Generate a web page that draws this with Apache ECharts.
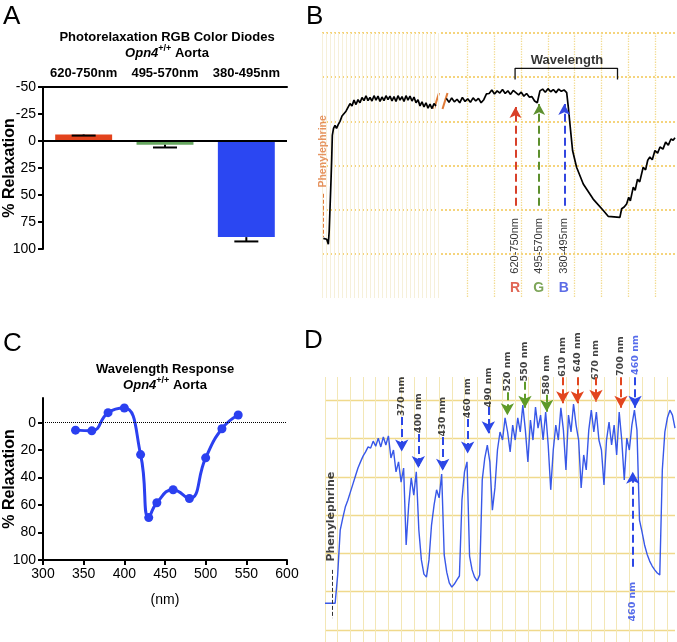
<!DOCTYPE html>
<html><head><meta charset="utf-8">
<script src="https://cdn.jsdelivr.net/npm/echarts@6/dist/echarts.min.js"></script>
<style>html,body{margin:0;padding:0;background:#fff}#c{width:677px;height:642px}</style>
</head><body><div id="c"></div>
<script>
// ---------- Panel A : RGB diodes ----------
const aCategories = ['620-750nm', '495-570nm', '380-495nm'];
const aMeans = [-6, 3.5, 89];
const aErrEnds = [-5, 6, 93];

// ---------- Panel B : raw trace (time / tension in chart divisions x10) ----------
const bTraceLeft = [
 [3.3,13.5],[7.5,13.4],[11.8,13.3],[15.8,12.2],[18,15.2],[20,20.2],[22.5,26.6],[24.3,31.6],[25.8,36.8],[28.8,38.4],[32.5,39.1],[36.3,38.4],[40.8,39.3],[45,40.0],
 [50,41.2],[55,40.8],[60,42.3],[65,42.0],[70,44.0],[75,43.5],[80,44.8],[85,43.8],[90,44.9],[95,44.2],[100,45.4],[105,44.7],[110,45.8],[115,44.7],[120,45.4],[125,44.6],
 [130,45.8],[135,44.8],[140,45.7],[145,44.5],[150,45.5],[155,44.7],[160,45.8],[165,44.9],[170,45.7],[175,44.6],[180,45.6],[185,44.5],[190,45.8],[195,44.8],[200,45.6],
 [205,44.5],[210,45.8],[215,44.8],[220,45.7],[225,44.6],[230,45.5],[235,44.2],[240,44.9],[245,43.5],[250,44.4],[255,43.25],[260,44.2],[265,43.0],[270,43.9],[275,42.9],[280,44.0],[285,43.5]
];
const bTraceRight = [
 [2,45.2],[3,44.3],[4,45.3],[5,44.4],[6,45.0],[7,44.2],[8,45.4],[9,44.5],[10,45.1],[11,44.3],[12,45.3],[13,44.6],[14,45.2],[15,44.2],[16,44.9],[17,46.2],[18,46.3],[19,47.1],
 [20,46.2],[21,46.9],[22,46.4],[23,47.2],[24,46.3],[25,46.9],[26,46.1],[27,47.0],[28,46.5],[29,46.0],[30,46.6],[31,45.7],[32,46.3],[33,45.5],[34,45.6],[35,44.6],[36,44.2],
 [37,46.9],[38,47.3],[39,46.6],[40,47.4],[41,46.7],[42,47.2],[43,46.5],[44,47.3],[45,46.8],[46,47.1],[47,46.5],
 [47.6,43.25],[48.2,39.5],[49.2,33.4],[50.7,29.6],[53.2,25.8],[56.9,22.4],[60.7,19.8],[62.5,18.5],[66.9,18.25],[67.55,20.2],[68.5,20.6],[69.4,21.3],[70.2,22.8],[70.8,22.0],
 [71.9,25.1],[72.6,24.4],[73.5,26.9],[74.3,26.3],[75.6,29.6],[76.5,29.0],[77.3,31.2],[78.1,31.9],[79,31.3],[80,33.4],[81,32.8],[81.9,34.2],[83,33.7],[84,35.3],[85,34.6],
 [86,36.0],[86.8,35.7],[87.5,36.3]
];
const bArrowNames = ['620-750nm', '495-570nm', '380-495nm'];
const bArrowLetters = ['R', 'G', 'B'];
const bArrowX = [27.85, 36.7, 46.1];
const bArrowBase = 20.9;
const bArrowTip = [43.25, 43.9, 43.9];
const bLabelY = 11.8, bLetterY = 2.3;
const bBracket = [[27.7,49.5],[27.7,52],[66.0,52],[66.0,49.5]];

// ---------- Panel C : wavelength response ----------
const cWavelengths = [340, 360, 380, 400, 420, 430, 440, 460, 480, 500, 520, 540];
const cRelax = [5.4, 5.9, -7.3, -10.7, 23.2, 69.1, 58.3, 48.8, 55.2, 25.6, 4.4, -5.6];
const cYTicks = [0, 20, 40, 60, 80, 100];

// ---------- Panel D : raw trace, sampled every 2 time units ----------
const dTimeStep = 2;
const dTrace = [
 7.0,7.0,7.0,7.0,7.0,14.4,26.1,29.2,32.1,33.9,36.0,38.1,40.2,42.3,43.9,45.4,46.5,47.8,47.5,49.3,
 48.0,50.1,47.8,50.4,48.3,50.7,44.9,47.0,41.3,43.9,38.6,42.3,22.2,32.6,39.7,35.2,41.3,26.1,18.3,14.6,
 13.8,18.3,27.4,32.6,36.6,34.5,40.7,19.6,15.1,12.3,11.2,12.0,13.1,14.1,33.9,41.3,43.9,19.3,15.7,13.8,
 12.8,14.4,39.2,44.9,48.3,43.9,31.3,37.1,47.0,51.7,49.6,55.4,51.7,46.5,53.5,49.6,55.4,51.7,58.7,52.2,
 43.9,54.8,49.6,58.2,52.7,56.1,49.6,56.9,48.3,36.6,47.0,53.5,49.6,58.0,52.2,41.8,56.1,51.7,59.0,53.5,
 49.6,37.1,45.7,41.8,52.2,57.4,51.7,56.9,49.6,47.0,37.9,49.6,54.3,48.3,53.5,45.7,56.9,49.6,39.2,50.1,
 47.0,53.5,57.4,52.2,28.7,25.6,22.2,19.8,18.0,16.7,15.7,14.9,14.4,41.8,51.7,55.4,57.4,56.1,52.7
];
const dArrowNames = ['370 nm','400 nm','430 nm','460 nm','490 nm','520 nm','550 nm','580 nm','610 nm','640 nm','670 nm','700 nm','460 nm'];
const dArrowBand  = ['b','b','b','b','b','g','g','g','r','r','r','r','b'];
const dArrowX     = [60.5,73.6,92.8,112.5,128.8,143.8,157.7,174.8,187.5,199,213.7,233.4,244.5];
const dArrowStart = [55.6,51.2,50.4,55.1,58.2,62.1,64.8,61.4,66,66,66,66,66];
const dArrowTip   = [46.6,42.3,41.6,46.1,51.4,56.1,58.0,57.0,59.2,59.2,59.6,58.0,58.0];
const dLabelY     = [61.0,56.6,55.7,60.5,63.3,67.5,70.1,66.6,71.3,72.5,70.5,71.5,71.8];
const dReturnArrow = {name: '460 nm', x: 242.7, start: 16.5, tip: 41.3, labelY: 7.4};

// ---------- styles ----------
const FONT = "'Liberation Sans', Arial, sans-serif";
const DFONT = "'DejaVu Sans', sans-serif";
const aColors = ['#e3431d', '#66a65f', '#2b47f2'];
const bCol = {R: '#d8402a', G: '#5d8f2e', B: '#3347e0'};
const dCol = {b: '#2c47e6', g: '#5f9a28', r: '#e2461f'};
const orange = '#e07b39';

const chart = echarts.init(document.getElementById('c'), null, {renderer: 'canvas'});

const hidden = {axisLine: {show: false}, axisTick: {show: false}, axisLabel: {show: false}};

const bArrowLines = bArrowX.map((x, i) => [
  {coord: [x, bArrowBase], lineStyle: {color: bCol[bArrowLetters[i]], type: 'dashed', width: 2}},
  {coord: [x, bArrowTip[i]]}
]);
const bLabels = [];
bArrowNames.forEach((n, i) => {
  bLabels.push({name: n, value: [bArrowX[i] - 0.2, bLabelY], label: {rotate: 90, fontSize: 11, color: '#000', fontFamily: FONT}});
  bLabels.push({name: bArrowLetters[i], value: [bArrowX[i] - 0.2, bLetterY], label: {fontSize: 14, fontWeight: 'bold', color: bCol[bArrowLetters[i]], fontFamily: FONT}});
});
bLabels.push({name: 'Wavelength', value: [47.1, 53.9], label: {fontSize: 13, fontWeight: 'bold', color: '#000', fontFamily: FONT}});

const dArrowLines = dArrowX.map((x, i) => [
  {coord: [x, dArrowStart[i]], lineStyle: {color: dCol[dArrowBand[i]], type: 'dashed', width: 2}},
  {coord: [x, dArrowTip[i]]}
]);
dArrowLines.push([
  {coord: [dReturnArrow.x, dReturnArrow.start], lineStyle: {color: dCol.b, type: 'dashed', width: 2}},
  {coord: [dReturnArrow.x, dReturnArrow.tip]}
]);
dArrowLines.push([
  {coord: [5.5, 15.7], lineStyle: {color: '#333', type: 'dashed', width: 1}},
  {coord: [5.5, 3.1], symbol: 'none'}
]);
const dLabels = dArrowNames.map((n, i) => ({
  name: n, value: [dArrowX[i], dLabelY[i]],
  label: {color: i === dArrowNames.length - 1 ? dCol.b : '#111'}
}));
dLabels.push({name: dReturnArrow.name, value: [dReturnArrow.x, dReturnArrow.labelY], label: {color: dCol.b}});
dLabels.push({name: 'Phenylephrine', value: [5.0, 29.6], label: {fontSize: 11, color: '#111'}});

const richOpn = {
  i: {fontFamily: FONT, fontSize: 13, fontWeight: 'bold', fontStyle: 'italic', lineHeight: 18, fill: '#000'},
  s: {fontFamily: FONT, fontSize: 9, fontWeight: 'bold', verticalAlign: 'top', lineHeight: 18, fill: '#000'},
  b: {fontFamily: FONT, fontSize: 13, fontWeight: 'bold', lineHeight: 18, fill: '#000'}
};

const option = {
  animation: false,
  backgroundColor: '#fff',
  textStyle: {fontFamily: FONT},
  grid: [
    {left: 43, top: 87, width: 244, height: 162},
    {left: 322, top: 33, width: 116, height: 265},
    {left: 441, top: 33, width: 234, height: 265},
    {left: 43, top: 398, width: 244, height: 162},
    {left: 325, top: 377, width: 350, height: 265}
  ],
  xAxis: [
    {gridIndex: 0, type: 'category', data: aCategories, position: 'top',
     axisLine: {onZero: false, lineStyle: {color: '#000', width: 2}},
     axisTick: {alignWithLabel: true, length: 4, lineStyle: {color: '#000', width: 2}},
     axisLabel: {interval: 0, hideOverlap: false, fontFamily: FONT, fontWeight: 'bold', fontSize: 13, color: '#000', margin: 7}},
    Object.assign({gridIndex: 1, type: 'value', min: 0, max: 290, interval: 10,
     splitLine: {show: true, lineStyle: {color: '#f6f0da', width: 1}}}, hidden),
    Object.assign({gridIndex: 2, type: 'value', min: 0, max: 87.5, interval: 10,
     splitLine: {show: true, showMinLine: false, showMaxLine: false, lineStyle: {color: '#f2da8e', type: 'dotted', width: 1.3}}}, hidden),
    {gridIndex: 3, type: 'value', min: 300, max: 600, interval: 50,
     axisLine: {onZero: false, lineStyle: {color: '#000', width: 2}},
     axisTick: {length: 5, lineStyle: {color: '#000', width: 2}},
     axisLabel: {fontFamily: FONT, fontSize: 14, color: '#000', margin: 7},
     splitLine: {show: false}},
    Object.assign({gridIndex: 4, type: 'value', min: 0, max: 276, interval: 10,
     splitLine: {show: true, showMaxLine: false, lineStyle: {color: '#f3e7b6', width: 1}}}, hidden)
  ],
  yAxis: [
    {gridIndex: 0, type: 'value', inverse: true, min: -50, max: 100, interval: 25,
     axisLine: {show: true, lineStyle: {color: '#000', width: 2}},
     axisTick: {show: true, length: 5, lineStyle: {color: '#000', width: 2}},
     axisLabel: {fontFamily: FONT, fontSize: 14, color: '#000', margin: 7},
     splitLine: {show: false}},
    Object.assign({gridIndex: 1, type: 'value', min: 0, max: 60, interval: 10,
     splitLine: {show: true, showMinLine: false, lineStyle: {color: '#f5d47c', type: 'dotted', width: 2}}}, hidden),
    Object.assign({gridIndex: 2, type: 'value', min: 0, max: 60, interval: 10,
     splitLine: {show: true, showMinLine: false, lineStyle: {color: '#f5d47c', type: 'dotted', width: 2}}}, hidden),
    {gridIndex: 3, type: 'value', inverse: true, min: -18, max: 100,
     axisLine: {show: true, onZero: false, lineStyle: {color: '#000', width: 2}},
     axisTick: {show: true, length: 5, customValues: cYTicks, lineStyle: {color: '#000', width: 2}},
     axisLabel: {fontFamily: FONT, fontSize: 14, color: '#000', margin: 7, customValues: cYTicks},
     splitLine: {show: false}},
    Object.assign({gridIndex: 4, type: 'value', min: -3.13, max: 66.06,
     splitLine: {show: true, showMinLine: false, showMaxLine: false, lineStyle: {color: '#f0d98c', width: 1.4}}}, hidden)
  ],
  series: [
    // A bars
    {type: 'bar', xAxisIndex: 0, yAxisIndex: 0, barWidth: '70%',
     data: aMeans.map((v, i) => ({value: v, itemStyle: {color: aColors[i]}})),
     markLine: {silent: true, symbol: 'none', label: {show: false},
       lineStyle: {color: '#000', width: 2, type: 'solid'}, data: [{yAxis: 0}]}},
    // A error bars
    {type: 'custom', xAxisIndex: 0, yAxisIndex: 0, z: 5,
     data: aMeans.map((m, i) => [i, m, aErrEnds[i]]),
     renderItem: (params, api) => {
       const p0 = api.coord([api.value(0), api.value(1)]);
       const p1 = api.coord([api.value(0), api.value(2)]);
       return {type: 'group', children: [
         {type: 'line', shape: {x1: p0[0], y1: p0[1], x2: p1[0], y2: p1[1]}, style: {stroke: '#000', lineWidth: 2}},
         {type: 'line', shape: {x1: p1[0] - 12, y1: p1[1], x2: p1[0] + 12, y2: p1[1]}, style: {stroke: '#000', lineWidth: 2}}
       ]};
     }},
    // B left trace
    {type: 'line', xAxisIndex: 1, yAxisIndex: 1, data: bTraceLeft, symbol: 'none',
     lineStyle: {color: '#000', width: 1.7},
     markLine: {silent: true, symbol: 'none', label: {show: false},
       data: [[{coord: [3.3, 23.6], lineStyle: {color: orange, type: 'dashed', width: 1}}, {coord: [3.3, 13.8]}]]}},
    {type: 'scatter', xAxisIndex: 1, yAxisIndex: 1, symbolSize: 1, clip: false, silent: true,
     itemStyle: {color: 'rgba(0,0,0,0)'},
     label: {show: true, position: 'inside', formatter: '{b}', rotate: 90, fontFamily: FONT, fontSize: 10.5, fontWeight: 'bold', color: orange},
     data: [{name: 'Phenylephrine', value: [3.3, 33.2]}]},
    // B right trace
    {type: 'line', xAxisIndex: 2, yAxisIndex: 2, data: bTraceRight, symbol: 'none',
     lineStyle: {color: '#000', width: 1.7},
     markLine: {silent: true, symbol: ['none', 'arrow'], symbolSize: [9, 11], label: {show: false}, data: bArrowLines}},
    {type: 'line', xAxisIndex: 2, yAxisIndex: 2, data: bBracket, symbol: 'none',
     lineStyle: {color: '#111', width: 1.3}},
    {type: 'scatter', xAxisIndex: 2, yAxisIndex: 2, symbolSize: 1, clip: false, silent: true,
     itemStyle: {color: 'rgba(0,0,0,0)'},
     label: {show: true, position: 'inside', formatter: '{b}'},
     data: bLabels},
    // C line
    {type: 'line', xAxisIndex: 3, yAxisIndex: 3, smooth: 0.5,
     data: cWavelengths.map((w, i) => [w, cRelax[i]]),
     symbol: 'circle', symbolSize: 9,
     lineStyle: {color: '#2b40f0', width: 3}, itemStyle: {color: '#2b40f0'},
     markLine: {silent: true, symbol: 'none', label: {show: false},
       lineStyle: {color: '#000', width: 1, type: 'dotted'}, data: [{yAxis: 0}]}},
    // D trace
    {type: 'line', xAxisIndex: 4, yAxisIndex: 4, symbol: 'none',
     data: dTrace.map((v, i) => [i * dTimeStep, v]),
     lineStyle: {color: '#3858e8', width: 1.4},
     markLine: {silent: true, symbol: ['none', 'arrow'], symbolSize: [10, 12], label: {show: false}, data: dArrowLines}},
    {type: 'scatter', xAxisIndex: 4, yAxisIndex: 4, symbolSize: 1, clip: false, silent: true,
     itemStyle: {color: 'rgba(0,0,0,0)'},
     label: {show: true, position: 'inside', formatter: '{b}', rotate: 90, fontFamily: DFONT, fontSize: 9.5, fontWeight: 'bold', color: '#111'},
     data: dLabels}
  ],
  graphic: [
    {type: 'text', x: 3, y: 17, style: {text: 'A', font: "26px " + FONT, fill: '#000', verticalAlign: 'middle'}},
    {type: 'text', x: 306, y: 17, style: {text: 'B', font: "26px " + FONT, fill: '#000', verticalAlign: 'middle'}},
    {type: 'text', x: 3, y: 344, style: {text: 'C', font: "26px " + FONT, fill: '#000', verticalAlign: 'middle'}},
    {type: 'text', x: 304, y: 341, style: {text: 'D', font: "26px " + FONT, fill: '#000', verticalAlign: 'middle'}},
    {type: 'text', x: 167, y: 37, style: {text: 'Photorelaxation RGB Color Diodes', font: "bold 13px " + FONT, fill: '#000', align: 'center', verticalAlign: 'middle'}},
    {type: 'text', x: 167, y: 53, style: {text: '{i|Opn4}{s|+/+}{b| Aorta}', rich: richOpn, align: 'center', verticalAlign: 'middle'}},
    {type: 'text', x: 165, y: 369, style: {text: 'Wavelength Response', font: "bold 13px " + FONT, fill: '#000', align: 'center', verticalAlign: 'middle'}},
    {type: 'text', x: 165, y: 385, style: {text: '{i|Opn4}{s|+/+}{b| Aorta}', rich: richOpn, align: 'center', verticalAlign: 'middle'}},
    {type: 'text', x: 10, y: 168, rotation: Math.PI / 2, style: {text: '% Relaxation', font: "bold 16px " + FONT, fill: '#000', align: 'center', verticalAlign: 'middle'}},
    {type: 'text', x: 10, y: 479, rotation: Math.PI / 2, style: {text: '% Relaxation', font: "bold 16px " + FONT, fill: '#000', align: 'center', verticalAlign: 'middle'}},
    {type: 'text', x: 165, y: 600, style: {text: '(nm)', font: "14px " + FONT, fill: '#000', align: 'center', verticalAlign: 'middle'}},
    {type: 'line', shape: {x1: 434, y1: 109, x2: 439, y2: 93}, style: {stroke: orange, lineWidth: 2}},
    {type: 'line', shape: {x1: 442.5, y1: 109, x2: 447.5, y2: 93}, style: {stroke: orange, lineWidth: 2}}
  ]
};
chart.setOption(option);
</script></body></html>
